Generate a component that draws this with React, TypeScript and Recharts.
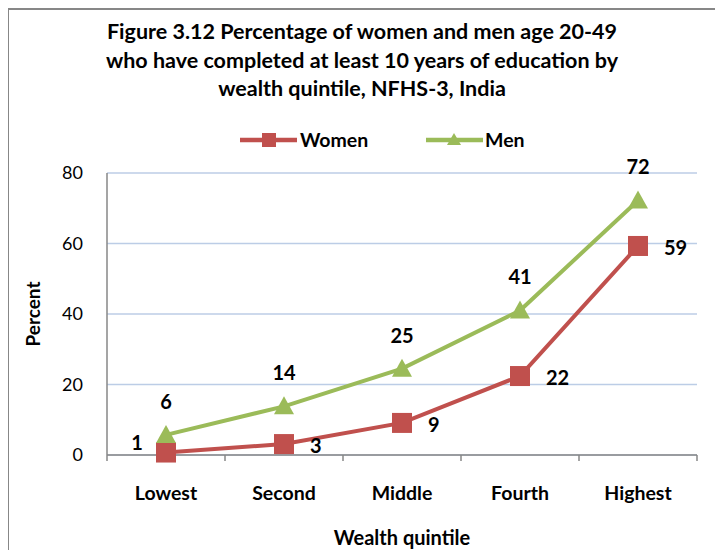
import React from 'react';
import { LineChart, Line, XAxis, YAxis, CartesianGrid, Legend, LabelList, Label } from 'recharts';

const FONT = 'Lato, "Open Sans", "DejaVu Sans", sans-serif';
const WOMEN_COLOR = '#C0504D';
const MEN_COLOR = '#9BBB59';
const AXIS_COLOR = '#878787';
const GRID_COLOR = '#BCCDE6';

const titleLines = [
  'Figure 3.12 Percentage of women and men age 20-49',
  'who have completed at least 10 years of education by',
  'wealth quintile, NFHS-3, India',
];
const categories = ['Lowest', 'Second', 'Middle', 'Fourth', 'Highest'];
const women = [0.7, 3.1, 9.1, 22.4, 59.3];
const men = [5.7, 13.8, 24.5, 41.0, 72.2];
const yTicks = [0, 20, 40, 60, 80];
const xTicks = [0, 0.5, 1, 1.5, 2, 2.5, 3, 3.5, 4, 4.5, 5];

const data = categories.map((c, i) => ({ x: i + 0.5, category: c, women: women[i], men: men[i] }));

const Square = (props: any) => {
  const { cx, cy } = props;
  if (cx == null || cy == null) return null;
  return <rect x={cx - 10} y={cy - 10} width={20} height={20} fill={WOMEN_COLOR} />;
};

const Triangle = (props: any) => {
  const { cx, cy } = props;
  if (cx == null || cy == null) return null;
  return <path d={`M${cx},${cy - 10} L${cx + 10},${cy + 8} L${cx - 10},${cy + 8} Z`} fill={MEN_COLOR} />;
};

const XTick = (props: any) => {
  const { x, y, payload } = props;
  const v = payload.value;
  if (Number.isInteger(v)) {
    return <line x1={x} x2={x} y1={y} y2={y + 6} stroke={AXIS_COLOR} strokeWidth={1.5} />;
  }
  const label = categories[Math.floor(v)];
  return (
    <text x={x} y={y + 37} textAnchor="middle" dominantBaseline="central" fontFamily={FONT} fontWeight={700} fontSize={19.5} fill="#000">
      {label}
    </text>
  );
};

const WomenLabel = (p: any) => {
  const { x, y, value, index } = p;
  const first = index === 0;
  return (
    <text
      x={first ? x - 29 : x + 26}
      y={first ? y - 11 : y + 1}
      textAnchor={first ? 'middle' : 'start'}
      dominantBaseline="central"
      fontFamily={FONT}
      fontWeight={700}
      fontSize={20}
      fill="#000"
    >
      {Math.round(value)}
    </text>
  );
};

const MenLabel = (p: any) => {
  const { x, y, value } = p;
  return (
    <text x={x} y={y - 34} textAnchor="middle" dominantBaseline="central" fontFamily={FONT} fontWeight={700} fontSize={20} fill="#000">
      {Math.round(value)}
    </text>
  );
};

const YLabel = (p: any) => {
  const vb = p.viewBox || { x: 0, y: 0, width: 0, height: 0 };
  const cx = vb.x + 24;
  const cy = vb.y + vb.height / 2;
  return (
    <text x={cx} y={cy} transform={`rotate(-90, ${cx}, ${cy})`} textAnchor="middle" dominantBaseline="central" fontFamily={FONT} fontWeight={700} fontSize={19} fill="#000">
      Percent
    </text>
  );
};

const XLabel = (p: any) => {
  const vb = p.viewBox || { x: 0, y: 0, width: 0, height: 0 };
  const cx = vb.x + vb.width / 2;
  const cy = vb.y + 82;
  return (
    <text x={cx} y={cy} textAnchor="middle" dominantBaseline="central" fontFamily={FONT} fontWeight={700} fontSize={20} fill="#000">
      Wealth quintile
    </text>
  );
};

const renderLegend = () => (
  <div style={{ position: 'relative', width: 715, height: 20, fontFamily: FONT, fontWeight: 700, fontSize: 19.5, color: '#000' }}>
    <svg style={{ position: 'absolute', left: 232, top: 0 }} width={57} height={20}>
      <line x1={0} y1={10} x2={57} y2={10} stroke={WOMEN_COLOR} strokeWidth={4.5} strokeLinecap="round" />
      <rect x={22} y={3} width={14} height={14} fill={WOMEN_COLOR} />
    </svg>
    <span style={{ position: 'absolute', left: 292, top: 0, lineHeight: '20px', whiteSpace: 'nowrap' }}>Women</span>
    <svg style={{ position: 'absolute', left: 418, top: 0 }} width={57} height={20}>
      <line x1={0} y1={10} x2={57} y2={10} stroke={MEN_COLOR} strokeWidth={4.5} strokeLinecap="round" />
      <path d="M28,3 L35,15 L21,15 Z" fill={MEN_COLOR} />
    </svg>
    <span style={{ position: 'absolute', left: 477, top: 0, lineHeight: '20px', whiteSpace: 'nowrap' }}>Men</span>
  </div>
);

export default function App() {
  return (
    <div style={{ position: 'relative', width: 715, height: 542 }}>
      <div
        style={{
          position: 'absolute',
          left: -1,
          top: 0,
          width: 720,
          height: 545,
          borderLeft: `2px solid ${AXIS_COLOR}`,
          borderTop: `2px solid ${AXIS_COLOR}`,
          boxSizing: 'border-box',
        }}
      />
      <div
        style={{
          position: 'absolute',
          left: 0,
          top: 9,
          width: 708,
          textAlign: 'center',
          fontFamily: FONT,
          fontWeight: 700,
          fontSize: 21.5,
          lineHeight: '28.5px',
          color: '#000',
        }}
      >
        {titleLines.map((t) => (
          <div key={t} style={{ whiteSpace: 'nowrap' }}>{t}</div>
        ))}
      </div>
      <div style={{ position: 'absolute', left: 0, top: 0 }}>
        <LineChart width={715} height={542} data={data} margin={{ top: 145, right: 26, bottom: 5, left: 0 }}>
          <CartesianGrid vertical={false} stroke={GRID_COLOR} strokeWidth={1.5} />
          <XAxis
            dataKey="x"
            type="number"
            domain={[0, 5]}
            ticks={xTicks}
            interval={0}
            tick={<XTick />}
            tickLine={false}
            tickSize={0}
            tickMargin={0}
            height={90}
            axisLine={{ stroke: AXIS_COLOR, strokeWidth: 1.5 }}
            allowDecimals
          >
            <Label content={<XLabel />} />
          </XAxis>
          <YAxis
            domain={[0, 80]}
            ticks={yTicks}
            interval={0}
            width={99}
            tickLine={false}
            tickSize={6}
            tickMargin={18}
            axisLine={{ stroke: AXIS_COLOR, strokeWidth: 1.5 }}
            tick={{ fontFamily: FONT, fontSize: 18, fill: '#000' }}
          >
            <Label content={<YLabel />} />
          </YAxis>
          <Legend verticalAlign="top" content={renderLegend} wrapperStyle={{ top: 122, left: 0, width: 715, height: 20 }} />
          <Line
            dataKey="women"
            name="Women"
            stroke={WOMEN_COLOR}
            strokeWidth={4}
            dot={<Square />}
            activeDot={false}
            isAnimationActive={false}
          >
            <LabelList dataKey="women" content={<WomenLabel />} />
          </Line>
          <Line
            dataKey="men"
            name="Men"
            stroke={MEN_COLOR}
            strokeWidth={4}
            dot={<Triangle />}
            activeDot={false}
            isAnimationActive={false}
          >
            <LabelList dataKey="men" content={<MenLabel />} />
          </Line>
        </LineChart>
      </div>
    </div>
  );
}
